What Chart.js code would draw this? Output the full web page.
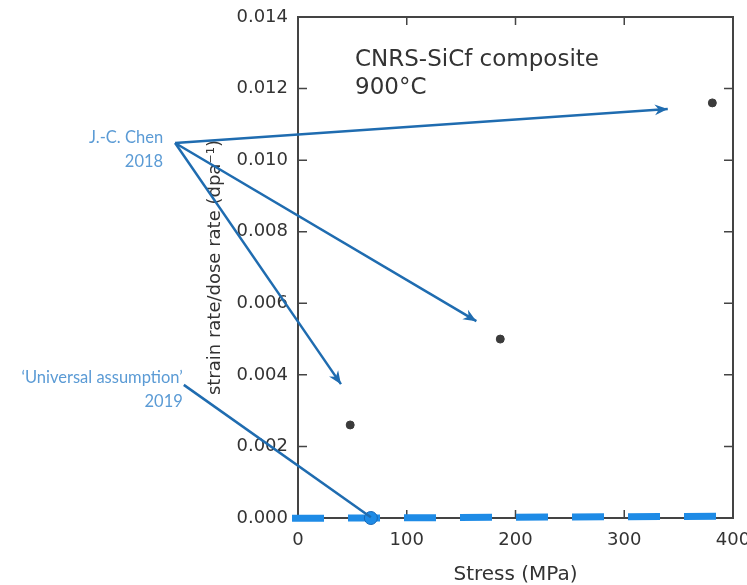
<!DOCTYPE html>
<html>
<head>
<meta charset="utf-8">
<script src="https://cdn.jsdelivr.net/npm/chart.js@4.4.0/dist/chart.umd.min.js"></script>
<style>
    html, body { margin: 0; padding: 0; background: #fff; }
</style>
</head>
<body>
<canvas id="creepChart" width="747" height="585"></canvas>
<script>
    // Measured points, CNRS-SiCf composite at 900°C
    const stressMPa = [48, 186, 381];
    const strainRate = [0.0026, 0.0050, 0.0116];

    // 'Universal assumption' marker and the dashed zero-creep line
    const universalStress = [67];
    const universalRate = [0];
    const zeroLineStress = [-5.5, 385];
    const zeroLineRate = [-0.00001, 0.00005];

    // Annotation arrows (data units, origin sits left of the axis)
    const chenFrom = [-113, 0.01048];
    const chenToStress = [340, 164, 39.5];
    const chenToRate = [0.01143, 0.0055, 0.00374];
    const universalFrom = [-105, 0.00372];
    const universalTo = [67, 0.00002];

    const xTicks = [0, 100, 200, 300, 400];
    const yTicks = [0, 0.002, 0.004, 0.006, 0.008, 0.010, 0.012, 0.014];

    const axisFont = { family: 'DejaVu Sans', size: 18 };
    const inkColor = '#333';
    const arrowColor = '#1f6cb0';
    const noteColor = '#5b9bd5';

    function toPoints(xs, ys) {
        return xs.map((x, i) => ({ x: x, y: ys[i] }));
    }

    function drawArrow(ctx, x1, y1, x2, y2, withHead) {
        ctx.beginPath();
        ctx.moveTo(x1, y1);
        ctx.lineTo(x2, y2);
        ctx.stroke();
        if (!withHead) return;
        const ang = Math.atan2(y2 - y1, x2 - x1);
        const len = 13, half = 5.5, notch = 9;
        ctx.beginPath();
        ctx.moveTo(x2, y2);
        ctx.lineTo(x2 - len * Math.cos(ang) + half * Math.sin(ang), y2 - len * Math.sin(ang) - half * Math.cos(ang));
        ctx.lineTo(x2 - notch * Math.cos(ang), y2 - notch * Math.sin(ang));
        ctx.lineTo(x2 - len * Math.cos(ang) - half * Math.sin(ang), y2 - len * Math.sin(ang) + half * Math.cos(ang));
        ctx.closePath();
        ctx.fill();
    }

    // Box frame with inward tick marks on all four sides
    const framePlugin = {
        id: 'frame',
        beforeDatasetsDraw(chart) {
            const { ctx, chartArea: a, scales: { x, y } } = chart;
            ctx.save();
            ctx.strokeStyle = '#444';
            ctx.lineWidth = 2;
            ctx.strokeRect(a.left, a.top, a.right - a.left, a.bottom - a.top);
            ctx.lineWidth = 1.5;
            ctx.beginPath();
            xTicks.slice(1, -1).forEach(v => {
                const px = x.getPixelForValue(v);
                ctx.moveTo(px, a.bottom); ctx.lineTo(px, a.bottom - 8);
                ctx.moveTo(px, a.top); ctx.lineTo(px, a.top + 8);
            });
            yTicks.slice(1, -1).forEach(v => {
                const py = y.getPixelForValue(v);
                ctx.moveTo(a.left, py); ctx.lineTo(a.left + 9, py);
                ctx.moveTo(a.right, py); ctx.lineTo(a.right - 9, py);
            });
            ctx.stroke();

            // in-plot caption
            ctx.fillStyle = inkColor;
            ctx.font = '23px "DejaVu Sans"';
            ctx.textAlign = 'left';
            ctx.textBaseline = 'alphabetic';
            ctx.fillText('CNRS-SiCf composite', a.left + 57, a.top + 49);
            ctx.fillText('900°C', a.left + 57, a.top + 77);
            ctx.restore();
        },
        afterDatasetsDraw(chart) {
            const { ctx, scales: { x, y } } = chart;
            ctx.save();
            ctx.strokeStyle = arrowColor;
            ctx.fillStyle = arrowColor;
            ctx.lineWidth = 2.5;
            const cx = x.getPixelForValue(chenFrom[0]);
            const cy = y.getPixelForValue(chenFrom[1]);
            chenToStress.forEach((s, i) => {
                drawArrow(ctx, cx, cy, x.getPixelForValue(s), y.getPixelForValue(chenToRate[i]), true);
            });
            const ux = x.getPixelForValue(universalFrom[0]);
            const uy = y.getPixelForValue(universalFrom[1]);
            drawArrow(ctx, ux, uy, x.getPixelForValue(universalTo[0]), y.getPixelForValue(universalTo[1]), false);

            ctx.fillStyle = noteColor;
            ctx.font = '16.5px Lato';
            ctx.textAlign = 'right';
            ctx.textBaseline = 'alphabetic';
            ctx.fillText('J.-C. Chen', cx - 12, cy);
            ctx.fillText('2018', cx - 12, cy + 24);
            ctx.fillText('\u2018Universal assumption\u2019', ux - 1, uy - 2);
            ctx.fillText('2019', ux - 1, uy + 22);
            ctx.restore();
        }
    };

    const ctx = document.getElementById('creepChart').getContext('2d');
    const creepChart = new Chart(ctx, {
        type: 'scatter',
        data: {
            datasets: [
                {
                    label: 'Universal assumption',
                    data: toPoints(universalStress, universalRate),
                    backgroundColor: '#1e8be6',
                    borderColor: '#1766b5',
                    borderWidth: 1,
                    pointRadius: 6.5,
                    clip: false
                },
                {
                    label: 'Zero creep',
                    type: 'line',
                    data: toPoints(zeroLineStress, zeroLineRate),
                    borderColor: '#1e8be6',
                    borderWidth: 7,
                    borderDash: [32, 24],
                    borderCapStyle: 'butt',
                    pointRadius: 0,
                    fill: false,
                    clip: false
                },
                {
                    label: 'J.-C. Chen 2018',
                    data: toPoints(stressMPa, strainRate),
                    backgroundColor: '#3b3b3b',
                    borderColor: '#3b3b3b',
                    pointRadius: 4
                }
            ]
        },
        options: {
            responsive: false,
            animation: false,
            layout: { padding: { top: 17, right: 14, left: 0, bottom: 0 } },
            plugins: {
                legend: { display: false },
                tooltip: { enabled: false }
            },
            scales: {
                x: {
                    type: 'linear',
                    min: 0,
                    max: 400,
                    grid: { display: false },
                    border: { display: false },
                    ticks: {
                        stepSize: 100,
                        color: inkColor,
                        font: axisFont,
                        padding: 4,
                        maxRotation: 0
                    },
                    title: {
                        display: true,
                        text: 'Stress (MPa)',
                        color: inkColor,
                        font: { family: 'DejaVu Sans', size: 20, lineHeight: 1.0 },
                        padding: { top: 0, bottom: 0 }
                    },
                    afterFit(scale) {
                        scale.height = 67;
                        scale.paddingLeft = 0;
                        scale.paddingRight = 0;
                    }
                },
                y: {
                    type: 'linear',
                    min: 0,
                    max: 0.014,
                    grid: { display: false },
                    border: { display: false },
                    ticks: {
                        stepSize: 0.002,
                        color: inkColor,
                        font: axisFont,
                        padding: 2,
                        callback: v => v.toFixed(3)
                    },
                    title: {
                        display: true,
                        text: 'strain rate/dose rate (dpa\u207B\u00B9)',
                        color: inkColor,
                        font: { family: 'DejaVu Sans', size: 18 },
                        padding: { top: 205, bottom: 0 }
                    },
                    afterFit(scale) {
                        scale.width = 298;
                        scale.paddingTop = 0;
                        scale.paddingBottom = 0;
                    }
                }
            }
        },
        plugins: [framePlugin]
    });
</script>
</body>
</html>
